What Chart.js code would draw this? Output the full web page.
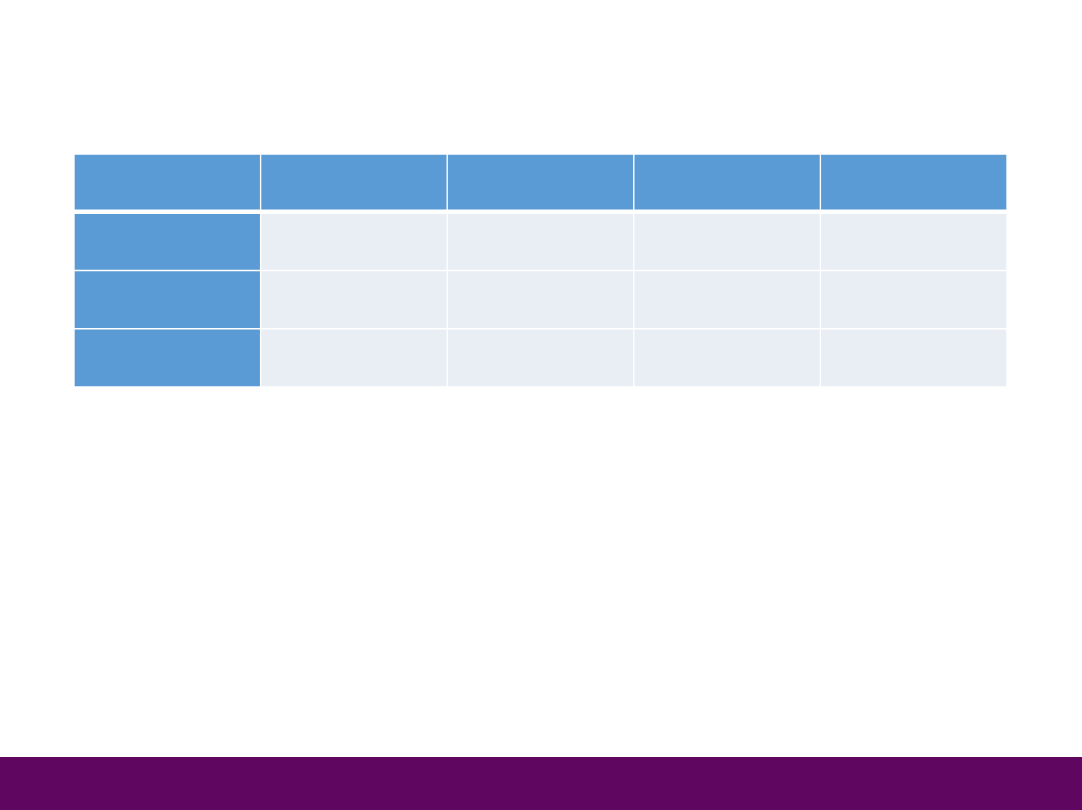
<!DOCTYPE html>
<html>
<head>
<meta charset="utf-8">
<title>Table</title>
<script src="https://cdn.jsdelivr.net/npm/chart.js@4/dist/chart.umd.min.js"></script>
<style>
  html, body { margin: 0; padding: 0; background: #ffffff; overflow: hidden; }
  #wrap { position: relative; width: 1082px; height: 810px; }
  #band { position: absolute; left: 0; top: 757px; width: 1082px; height: 53px; background: #5f0760; }
</style>
</head>
<body>
<div id="wrap">
  <canvas id="tableChart" width="1082" height="810"></canvas>
  <div id="band"></div>
</div>
<script>
// --- Table layout: 5 columns, 1 header row + 3 body rows, all cells empty ---
const columns = ['', '', '', '', ''];
const rowKinds = ['header', 'body', 'body', 'body'];
const rowSpans = [[0, 1], [1, 2], [2, 3], [3, 4]];

const headBlue = '#5b9bd5';
const cellGrey = '#e9edf4';

const datasets = rowKinds.map((kind, r) => ({
  label: 'row ' + r,
  data: columns.map(() => rowSpans[r]),
  backgroundColor: columns.map((c, i) => (kind === 'header' || i === 0) ? headBlue : cellGrey),
  borderColor: '#ffffff',
  borderWidth: kind === 'header'
    ? { top: 1, bottom: 3, left: 1, right: 1 }
    : (r === 1 ? { top: 2, bottom: 1, left: 1, right: 1 } : 1),
  borderSkipped: false,
  grouped: false,
  barPercentage: 1,
  categoryPercentage: 1
}));

const ctx = document.getElementById('tableChart').getContext('2d');
new Chart(ctx, {
  type: 'bar',
  data: { labels: columns, datasets: datasets },
  options: {
    responsive: false,
    animation: false,
    layout: { padding: { left: 74, right: 75, top: 154, bottom: 423 } },
    plugins: { legend: { display: false }, tooltip: { enabled: false } },
    scales: {
      x: { display: false },
      y: { display: false, reverse: true, min: 0, max: rowSpans.length }
    }
  }
});
</script>
</body>
</html>
